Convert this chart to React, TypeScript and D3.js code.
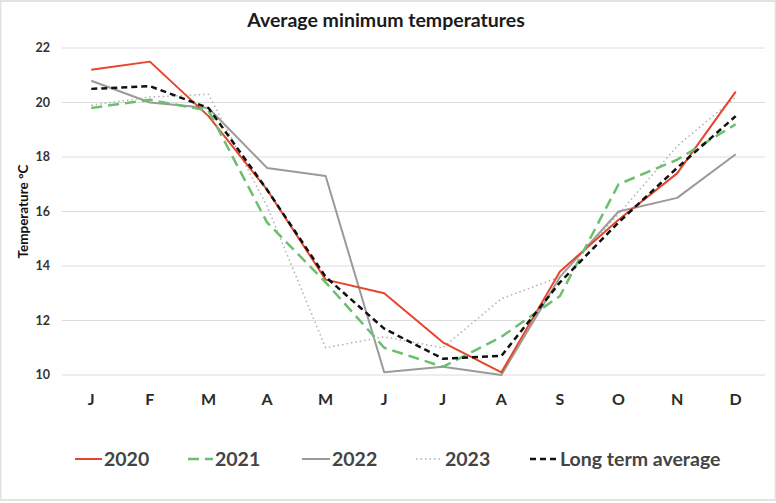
import React, { useEffect, useRef } from "react";
import * as d3 from "d3";

const months = ["J", "F", "M", "A", "M", "J", "J", "A", "S", "O", "N", "D"];
const yTicks = [10, 12, 14, 16, 18, 20, 22];

const temps2020 = [21.2, 21.5, 19.5, 16.8, 13.5, 13.0, 11.2, 10.1, 13.8, 15.7, 17.4, 20.4];
const temps2021 = [19.8, 20.1, 19.7, 15.6, 13.4, 11.0, 10.3, 11.4, 12.9, 17.0, 17.9, 19.2];
const temps2022 = [20.8, 20.0, 19.8, 17.6, 17.3, 10.1, 10.3, 10.0, 13.6, 16.0, 16.5, 18.1];
const temps2023 = [19.9, 20.2, 20.3, 16.2, 11.0, 11.4, 11.0, 12.8, 13.6, 15.9, 18.4, 20.2];
const longTerm = [20.5, 20.6, 19.8, 16.8, 13.6, 11.7, 10.6, 10.7, 13.4, 15.6, 17.6, 19.5];

const series = [
    { name: "2020", values: temps2020, color: "#e5452b", width: 2, dash: null, legendX: 75, textX: 104 },
    { name: "2021", values: temps2021, color: "#6bbf6e", width: 2.5, dash: "11,6", legendX: 188, textX: 215 },
    { name: "2022", values: temps2022, color: "#9a9a9a", width: 2, dash: null, legendX: 302, textX: 332 },
    { name: "2023", values: temps2023, color: "#b0b0b0", width: 1.5, dash: "1.5,3", legendX: 416, textX: 445 },
    { name: "Long term average", values: longTerm, color: "#111111", width: 2.5, dash: "6,4", legendX: 530, textX: 560 },
];

const App = () => {
    const svgRef = useRef(null);

    useEffect(() => {
        const width = 776;
        const height = 503;
        const svg = d3.select(svgRef.current).attr("width", width).attr("height", height);
        svg.selectAll("*").remove();

        const font = "Lato, 'Open Sans', sans-serif";

        // light frame around the picture
        svg.append("rect")
            .attr("x", 0.5)
            .attr("y", 1)
            .attr("width", width - 1)
            .attr("height", height - 4)
            .attr("fill", "#fff")
            .attr("stroke", "#e2e2e2")
            .attr("stroke-width", 2);

        const x = d3
            .scaleBand()
            .domain(months.map((m, i) => String(i)))
            .range([62, 765]);
        const cx = (i) => x(String(i)) + x.bandwidth() / 2;

        const y = d3.scaleLinear().domain([10, 22]).range([375, 48]);

        // gridlines
        svg.append("g")
            .selectAll("line")
            .data(yTicks)
            .enter()
            .append("line")
            .attr("x1", 62)
            .attr("x2", 765)
            .attr("y1", (d) => y(d))
            .attr("y2", (d) => y(d))
            .attr("stroke", "#dcdcdc")
            .attr("stroke-width", 1);

        // y tick labels
        svg.append("g")
            .selectAll("text")
            .data(yTicks)
            .enter()
            .append("text")
            .attr("x", 50)
            .attr("y", (d) => y(d))
            .attr("dy", "0.35em")
            .attr("text-anchor", "end")
            .attr("font-family", font)
            .attr("font-weight", "700")
            .attr("font-size", 12.5)
            .attr("fill", "#333")
            .text((d) => d);

        // x labels
        svg.append("g")
            .selectAll("text")
            .data(months)
            .enter()
            .append("text")
            .attr("x", (d, i) => cx(i))
            .attr("y", 405)
            .attr("text-anchor", "middle")
            .attr("font-family", font)
            .attr("font-weight", "700")
            .attr("font-size", 16)
            .attr("fill", "#2b2b2b")
            .text((d) => d);

        // y axis title
        svg.append("text")
            .attr("transform", `translate(28,${y(16)}) rotate(-90)`)
            .attr("text-anchor", "middle")
            .attr("font-family", font)
            .attr("font-weight", "700")
            .attr("font-size", 13.5)
            .attr("fill", "#111")
            .text("Temperature °C");

        // title
        svg.append("text")
            .attr("x", 386)
            .attr("y", 27)
            .attr("text-anchor", "middle")
            .attr("font-family", font)
            .attr("font-weight", "700")
            .attr("font-size", 19.5)
            .attr("fill", "#1a1a1a")
            .text("Average minimum temperatures");

        const line = d3
            .line<number>()
            .x((d, i) => cx(i))
            .y((d) => y(d));

        // lines (drawn so that long term average sits on top)
        const drawOrder = [2, 3, 0, 1, 4];
        drawOrder.forEach((k) => {
            const s = series[k];
            svg.append("path")
                .datum(s.values)
                .attr("fill", "none")
                .attr("stroke", s.color)
                .attr("stroke-width", s.width)
                .attr("stroke-dasharray", s.dash)
                .attr("stroke-linejoin", "round")
                .attr("d", line);
        });

        // legend
        const legendY = 459;
        const lg = svg.append("g");
        series.forEach((s) => {
            lg.append("line")
                .attr("x1", s.legendX)
                .attr("x2", s.textX - 2)
                .attr("y1", legendY)
                .attr("y2", legendY)
                .attr("stroke", s.color)
                .attr("stroke-width", s.width)
                .attr("stroke-dasharray", s.dash);
            lg.append("text")
                .attr("x", s.textX)
                .attr("y", legendY)
                .attr("dy", "0.35em")
                .attr("font-family", font)
                .attr("font-weight", "700")
                .attr("font-size", 19.5)
                .attr("fill", "#444")
                .text(s.name);
        });
    }, []);

    return (
        <svg
            ref={svgRef}
            style={{ position: "absolute", top: 0, left: 0, display: "block" }}
        ></svg>
    );
};

export default App;
